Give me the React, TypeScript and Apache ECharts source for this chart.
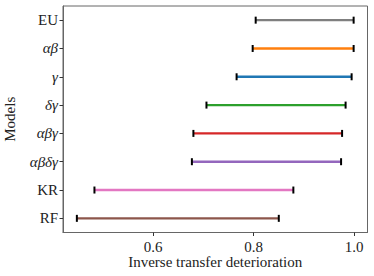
import React, { useEffect, useRef } from "react";
import * as echarts from "echarts";

const categories = ["EU", "αβ", "γ", "δγ", "αβγ", "αβδγ", "KR", "RF"];
const italicLabels = [false, true, true, true, true, true, false, false];
const lowValues = [0.804, 0.798, 0.766, 0.706, 0.68, 0.677, 0.483, 0.448];
const highValues = [0.999, 0.999, 0.995, 0.983, 0.976, 0.974, 0.879, 0.85];
const colors = ["#7f7f7f", "#ff7f0e", "#1f77b4", "#2ca02c", "#d62728", "#9467bd", "#e377c2", "#8c564b"];
const xTicks = [0.6, 0.8, 1.0];

const FONT = "'Liberation Serif', 'DejaVu Serif', serif";
const FS = 15;

export default function App() {
  const ref = useRef<HTMLDivElement>(null);
  useEffect(() => {
    const chart = echarts.init(ref.current!, null, { renderer: "svg" });
    const data = categories.map((c, i) => [i, lowValues[i], highValues[i]]);
    chart.setOption({
      animation: false,
      grid: {
        left: 63,
        right: 6.5,
        top: 6,
        bottom: 43.5,
        containLabel: false,
        outerBoundsMode: "none",
        show: true,
        borderColor: "#666",
        borderWidth: 1,
        backgroundColor: "transparent",
      },
      xAxis: {
        type: "value",
        min: 0.4204,
        max: 1.0266,
        splitLine: { show: false },
        axisLine: { show: true, lineStyle: { color: "#666", width: 1 } },
        axisTick: { show: true, length: 3.5, lineStyle: { color: "#333" }, customValues: xTicks },
        axisLabel: {
          color: "#222",
          fontFamily: FONT,
          fontSize: FS,
          lineHeight: 13,
          margin: 8,
          customValues: xTicks,
          formatter: (v: number) => v.toFixed(1),
        },
        name: "Inverse transfer deterioration",
        nameLocation: "middle",
        nameGap: 22.5,
        nameMoveOverlap: false,
        nameTextStyle: { color: "#222", fontFamily: FONT, fontSize: FS, lineHeight: 13 },
      },
      yAxis: {
        type: "category",
        data: categories,
        inverse: true,
        axisLine: { show: true, lineStyle: { color: "#666", width: 1 } },
        axisTick: { show: true, length: 3.5, alignWithLabel: true, lineStyle: { color: "#333" } },
        axisLabel: {
          color: "#222",
          fontFamily: FONT,
          fontSize: FS,
          margin: 5,
          formatter: (v: string) => {
            const i = categories.indexOf(v);
            return italicLabels[i] ? `{i|${v}}` : `{n|${v}}`;
          },
          rich: {
            i: { fontStyle: "italic", fontFamily: FONT, fontSize: FS, color: "#222" },
            n: { fontFamily: FONT, fontSize: FS, color: "#222" },
          },
        },
        name: "Models",
        nameLocation: "middle",
        nameGap: 46,
        nameMoveOverlap: false,
        nameTextStyle: { color: "#222", fontFamily: FONT, fontSize: FS },
      },
      series: [
        {
          type: "custom",
          data,
          encode: { x: [1, 2], y: 0 },
          renderItem: (params: any, api: any) => {
            const idx = api.value(0);
            const p1 = api.coord([api.value(1), idx]);
            const p2 = api.coord([api.value(2), idx]);
            const capH = 3.5;
            return {
              type: "group",
              children: [
                {
                  type: "line",
                  shape: { x1: p1[0], y1: p1[1], x2: p2[0], y2: p2[1] },
                  style: { stroke: colors[idx], lineWidth: 2.4 },
                },
                {
                  type: "line",
                  shape: { x1: p1[0], y1: p1[1] - capH, x2: p1[0], y2: p1[1] + capH },
                  style: { stroke: "#000", lineWidth: 2 },
                },
                {
                  type: "line",
                  shape: { x1: p2[0], y1: p2[1] - capH, x2: p2[0], y2: p2[1] + capH },
                  style: { stroke: "#000", lineWidth: 2 },
                },
              ],
            };
          },
        },
      ],
    });
    return () => chart.dispose();
  }, []);
  return <div ref={ref} style={{ width: 374, height: 276, position: "absolute", left: 0, top: 0 }} />;
}
